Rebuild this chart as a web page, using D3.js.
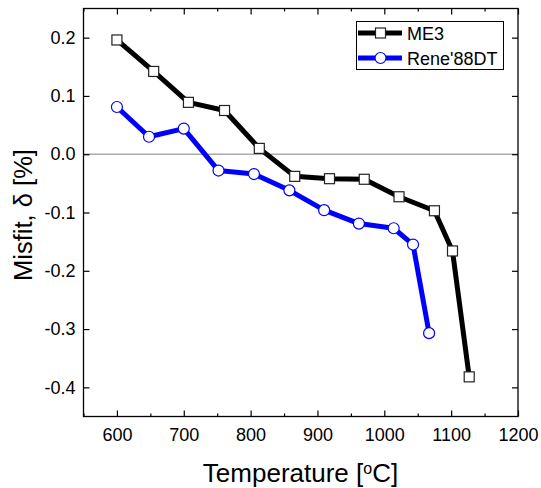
<!DOCTYPE html>
<html><head><meta charset="utf-8">
<script src="https://cdn.jsdelivr.net/npm/d3@7"></script>
<style>body{margin:0;background:#fff}svg{display:block}text{font-family:"Liberation Sans",Arial,sans-serif}</style>
</head><body>
<svg id="c" width="541" height="488"></svg>
<script>
const me3Temp = [600, 655, 707, 761, 813, 866, 918, 970, 1022, 1075, 1102, 1127];
const me3Misfit = [0.196, 0.142, 0.089, 0.075, 0.010, -0.038, -0.042, -0.043, -0.073, -0.097, -0.166, -0.382];
const reneTemp = [600, 648, 700, 752, 805, 858, 910, 962, 1014, 1043, 1067];
const reneMisfit = [0.081, 0.030, 0.044, -0.028, -0.034, -0.062, -0.096, -0.119, -0.127, -0.155, -0.307];
const xTicks = [600, 700, 800, 900, 1000, 1100, 1200];
const xMinor = [550, 650, 750, 850, 950, 1050, 1150];
const yTicks = [0.2, 0.1, 0.0, -0.1, -0.2, -0.3, -0.4];
const seriesNames = ["ME3", "Rene'88DT"];

const svg = d3.select("#c");
const L = 83.5, R = 518, T = 8.5, B = 416.5;
const x = d3.scaleLinear().domain([550, 1200]).range([L, R]);
const y = d3.scaleLinear().domain([-0.45, 0.25]).range([B, T]);

// zero line
svg.append("line").attr("x1", L).attr("x2", R).attr("y1", y(0)).attr("y2", y(0))
  .attr("stroke", "#aaaaaa").attr("stroke-width", 1.5);

const fmt = d => d3.format(".1f")(d).replace("\u2212", "-");
const gBottom = svg.append("g").attr("transform", `translate(0,${B})`)
  .call(d3.axisBottom(x).tickValues(xTicks).tickSizeInner(-6).tickSizeOuter(0).tickPadding(12).tickFormat(d3.format("d")));
const gBottomMinor = svg.append("g").attr("transform", `translate(0,${B})`)
  .call(d3.axisBottom(x).tickValues(xMinor).tickSizeInner(-3).tickSizeOuter(0).tickFormat(""));
const gTop = svg.append("g").attr("transform", `translate(0,${T})`)
  .call(d3.axisTop(x).tickValues(xTicks).tickSizeInner(-6).tickSizeOuter(0).tickFormat(""));
const gTopMinor = svg.append("g").attr("transform", `translate(0,${T})`)
  .call(d3.axisTop(x).tickValues(xMinor).tickSizeInner(-3).tickSizeOuter(0).tickFormat(""));
const gLeft = svg.append("g").attr("transform", `translate(${L},0)`)
  .call(d3.axisLeft(y).tickValues(yTicks).tickSizeInner(-6).tickSizeOuter(0).tickPadding(8).tickFormat(fmt));
const gRight = svg.append("g").attr("transform", `translate(${R},0)`)
  .call(d3.axisRight(y).tickValues(yTicks).tickSizeInner(-6).tickSizeOuter(0).tickFormat(""));
[gBottom, gBottomMinor, gTop, gTopMinor, gLeft, gRight].forEach(g => {
  g.select(".domain").remove();
  g.selectAll("line").attr("stroke", "#000").attr("stroke-width", 1.2);
  g.selectAll("text").attr("fill", "#000").style("font-size", "18px");
});

svg.append("rect").attr("x", L).attr("y", T).attr("width", R - L).attr("height", B - T)
  .attr("fill", "none").attr("stroke", "#000").attr("stroke-width", 1.3);

// lines
const line = d3.line().x(d => x(d[0])).y(d => y(d[1]));
const me3 = me3Temp.map((t, i) => [t, me3Misfit[i]]);
const rene = reneTemp.map((t, i) => [t, reneMisfit[i]]);
svg.append("path").datum(rene).attr("d", line).attr("fill", "none").attr("stroke", "#0000ff").attr("stroke-width", 5).attr("stroke-linejoin", "round");
svg.append("path").datum(me3).attr("d", line).attr("fill", "none").attr("stroke", "#000").attr("stroke-width", 5).attr("stroke-linejoin", "round");
svg.selectAll(".sq").data(me3).enter().append("rect")
  .attr("x", d => x(d[0]) - 5).attr("y", d => y(d[1]) - 5).attr("width", 10).attr("height", 10)
  .attr("fill", "#fff").attr("stroke", "#222").attr("stroke-width", 1.2);
svg.selectAll(".ci").data(rene).enter().append("circle")
  .attr("cx", d => x(d[0])).attr("cy", d => y(d[1])).attr("r", 5.5)
  .attr("fill", "#fff").attr("stroke", "#0000ff").attr("stroke-width", 1.2);

// legend
const lg = svg.append("g");
lg.append("rect").attr("x", 356.5).attr("y", 21.5).attr("width", 147).attr("height", 48)
  .attr("fill", "#fff").attr("stroke", "#000").attr("stroke-width", 1);
lg.append("line").attr("x1", 358).attr("x2", 402).attr("y1", 33).attr("y2", 33).attr("stroke", "#000").attr("stroke-width", 5);
lg.append("rect").attr("x", 375.5).attr("y", 28).attr("width", 10).attr("height", 10).attr("fill", "#fff").attr("stroke", "#222").attr("stroke-width", 1.2);
lg.append("line").attr("x1", 358).attr("x2", 402).attr("y1", 58).attr("y2", 58).attr("stroke", "#0000ff").attr("stroke-width", 5);
lg.append("circle").attr("cx", 380.5).attr("cy", 58).attr("r", 5.5).attr("fill", "#fff").attr("stroke", "#0000ff").attr("stroke-width", 1.2);
lg.append("text").attr("x", 407).attr("y", 39.5).style("font-size", "18px").text(seriesNames[0]);
lg.append("text").attr("x", 407).attr("y", 64.5).style("font-size", "18px").text(seriesNames[1]);

// axis titles
const xt = svg.append("text").attr("x", 300.5).attr("y", 482).attr("text-anchor", "middle").style("font-size", "26px");
xt.append("tspan").text("Temperature [");
xt.append("tspan").attr("baseline-shift", "super").style("font-size", "16px").text("o");
xt.append("tspan").text("C]");
svg.append("text").attr("transform", "translate(32,215) rotate(-90)").attr("text-anchor", "middle")
  .style("font-size", "25.5px").text("Misfit, δ [%]");
</script>
</body></html>
